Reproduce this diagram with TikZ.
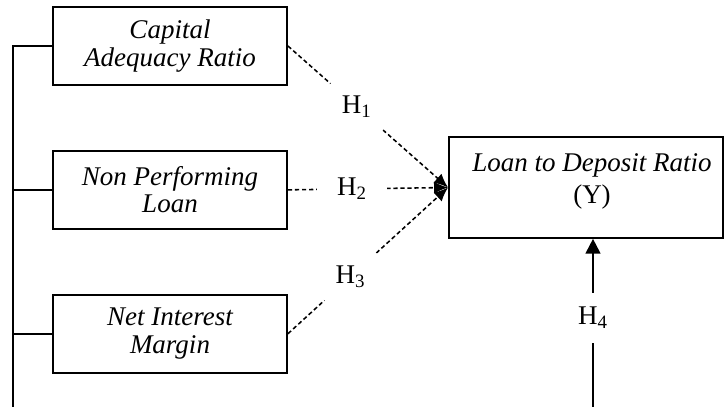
\documentclass[tikz,border=0pt]{standalone}
\usepackage{fontspec}
\setmainfont{Liberation Serif}
\usetikzlibrary{arrows.meta,positioning}

\begin{document}
\begin{tikzpicture}[
    x=0.025cm, y=-0.025cm,
    every node/.style={font=\fontsize{19.2}{19}\selectfont},
    varbox/.style={draw, line width=1.3pt, minimum width=5.85cm, minimum height=1.95cm,
      align=center, font=\fontsize{19.2}{19.5}\selectfont\itshape},
    depbox/.style={draw, line width=1.3pt, minimum width=6.85cm, minimum height=2.52cm},
    deptext/.style={align=center, font=\fontsize{19.2}{23}\selectfont\itshape},
    tie/.style={line width=1.3pt},
    hyp/.style={line width=1.1pt, dash pattern=on 3pt off 2pt,
      -{Latex[length=0.35cm,width=0.3cm]}},
    hgap/.style={circle, fill=white, minimum size=1.75cm, inner sep=0pt},
    vgap/.style={fill=white, minimum height=1.25cm, inner sep=0pt},
  ]
  \useasboundingbox (0,0) rectangle (725,407);

  \node[varbox] (car) at (170,46) {Capital\\Adequacy Ratio};
  \node[varbox, below=1.6cm of car] (npl) {Non Performing\\Loan};
  \node[varbox, below=1.6cm of npl] (nim) {Net Interest\\Margin};
  \node[depbox] (ldr) at (586,187.5) {};
  \node[deptext] (ldrtext) at ([xshift=0.15cm,yshift=0.15cm]ldr.center)
    {Loan to Deposit Ratio\\\textup{(Y)}};

  \coordinate (trunk) at (13,407);
  \coordinate (h4foot) at (593,407);

  \draw[tie] (car.west) -| (trunk);
  \draw[tie] (npl.west) -- (npl.west -| trunk);
  \draw[tie] (nim.west) -- (nim.west -| trunk);

  \draw[hyp] (car.east) -- node[hgap, pos=0.43] {H\textsubscript{1}} (ldr.west);
  \draw[hyp] (npl.east) -- node[hgap, pos=0.40] {H\textsubscript{2}} (ldr.west);
  \draw[hyp] (nim.east) -- node[hgap, pos=0.39] {H\textsubscript{3}} (ldr.west);
  \draw[tie, -{Triangle[length=0.37cm,width=0.37cm]}] (h4foot)
    -- node[vgap, pos=0.53] {H\textsubscript{4}} (h4foot |- ldr.south);
\end{tikzpicture}
\end{document}
